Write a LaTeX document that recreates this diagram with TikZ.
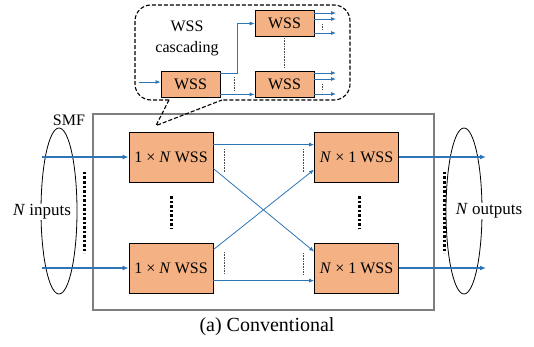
\documentclass[tikz,border=0pt]{standalone}
\usepackage{fontspec}
\setmainfont{Liberation Serif}
\usetikzlibrary{arrows.meta,calc}
\definecolor{wssfill}{HTML}{F4B183}
\definecolor{lineblue}{HTML}{2E75B6}
\definecolor{boxgray}{HTML}{7F7F7F}
\tikzset{
  wss/.style={draw=black, line width=0.8pt, fill=wssfill, inner sep=0pt,
    minimum width=84pt, minimum height=50pt, font=\fontsize{16}{19}\selectfont},
  swss/.style={draw=black, line width=0.8pt, fill=wssfill, inner sep=0pt,
    minimum width=59pt, minimum height=26pt, font=\fontsize{16}{19}\selectfont},
  conn/.style={draw=lineblue, line width=0.8pt, -{Latex[length=5pt,width=4pt]}},
  inarr/.style={draw=lineblue, line width=1.4pt, -{Latex[length=6pt,width=5pt]}},
  outarr/.style={draw=lineblue, line width=2pt, -{Latex[length=6pt,width=5pt]}},
  thindots/.style={draw=black!70, line width=0.6pt, dash pattern=on 0.8pt off 0.8pt},
  thickdots/.style={draw=black, line width=3pt, dash pattern=on 2.5pt off 2pt},
  callout/.style={draw=black, line width=1.1pt, dash pattern=on 4pt off 2pt},
  lbl/.style={font=\fontsize{17}{20}\selectfont, inner sep=0.5pt}
}
\begin{document}
\begin{tikzpicture}[x=1pt,y=-1pt]
\useasboundingbox (0,0) rectangle (534,347);

% SMF box
\node[draw=boxgray, line width=1.2pt, minimum width=341pt, minimum height=196pt, inner sep=0pt] (smf) at (263.5,212) {};
\node[font=\fontsize{16}{19}\selectfont, inner sep=0pt] (smflbl) at (69,120) {SMF};

% ellipses
\draw[line width=0.8pt] (59,211) ellipse [x radius=18, y radius=83];
\draw[line width=0.8pt] (464,211) ellipse [x radius=18, y radius=83];

% labels
\node[lbl, fill=white] (inlbl) at (42,212) {\textit{N} inputs};
\node[lbl, fill=white] (outlbl) at (489,211) {\textit{N} outputs};

% WSS nodes
\node[wss] (L1) at (171,157) {1 × \textit{N} WSS};
\node[wss] (L2) at (171,268) {1 × \textit{N} WSS};
\node[wss] (R1) at (356.5,157) {\textit{N} × 1 WSS};
\node[wss] (R2) at (356.5,268) {\textit{N} × 1 WSS};

% input / output
\coordinate (i1) at (42,157);
\coordinate (i2) at (42,268);
\coordinate (o1) at (486,157);
\coordinate (o2) at (486,268);
\draw[inarr] (i1) -- (L1.west);
\draw[inarr] (i2) -- (L2.west);
\draw[outarr] (R1.east) -- (o1);
\draw[outarr] (R2.east) -- (o2);

% internal connections
\draw[conn] ([yshift=-13pt]L1.north east) -- ([yshift=-13pt]R1.north west);
\draw[conn] ([yshift=-37pt]L1.north east) -- ([yshift=-9pt]R2.north west);
\draw[conn] ([yshift=-7pt]L2.north east) -- ([yshift=-38pt]R1.north west);
\draw[conn] ([yshift=-38pt]L2.north east) -- ([yshift=-38pt]R2.north west);

% thin dots
\draw[thindots] (224,149) -- (224,172);
\draw[thindots] (224,252) -- (224,274);
\draw[thindots] (303,149) -- (303,172);
\draw[thindots] (303,253) -- (303,275);

% thick dots
\draw[thickdots] (171,196) -- (171,229);
\draw[thickdots] (359,196) -- (359,229);
\draw[thickdots] (84,172) -- (84,253);
\draw[thickdots] (444,172) -- (444,253);

% callout
\coordinate (tip) at ([xshift=-15pt,yshift=6pt]L1.north);
\draw[callout] (169,100) -- (tip) -- (222,100);
\draw[callout, rounded corners=16pt] (169,100) -- (135,100) -- (135,5) -- (350,5) -- (350,100) -- (222,100);

\node[font=\fontsize{16}{21}\selectfont, align=center, inner sep=0pt] (casc) at (187,38) {WSS\\cascading};

\node[swss] (S0) at (190.5,84) {WSS};
\node[swss] (S1) at (284.5,23.5) {WSS};
\node[swss] (S2) at (284.5,84) {WSS};

\coordinate (si) at (139,82);
\draw[conn] (si) -- (S0.west |- si);
\draw[conn] ([yshift=-3pt]S0.north east) -| (237,23.5) -- (S1.west);
\draw[conn] ([yshift=3pt]S0.south east) -- ([yshift=3pt]S2.south west);

\foreach \y in {13,19,33} { \coordinate (a\y) at (336,\y); \draw[conn] (S1.east |- a\y) -- (a\y); }
\foreach \y in {73,79,94} { \coordinate (b\y) at (336,\y); \draw[conn] (S2.east |- b\y) -- (b\y); }

\draw[thindots] (322,24) -- (322,30);
\draw[thindots] (322,84) -- (322,90);
\draw[thindots] (234,77) -- (234,90);
\draw[thindots] (284,38) -- (284,68);

% caption
\node[font=\fontsize{20}{24}\selectfont, inner sep=0pt] (cap) at (267,327) {(a) Conventional};
\end{tikzpicture}
\end{document}
